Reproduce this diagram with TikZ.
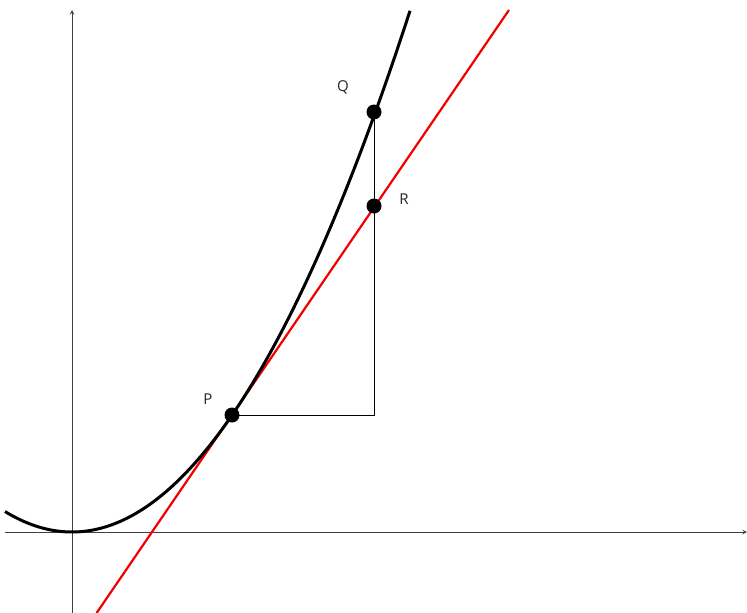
\documentclass[tikz,border=0pt]{standalone}
\usepackage{fontspec}
\setmainfont{Open Sans}
\begin{document}
\begin{tikzpicture}[x=1pt,y=-1pt,
  axis/.style={line width=1pt,->,>={stealth},black!75},
  curve/.style={line width=3pt,black},
  tangent/.style={line width=2.2pt,red!95!black},
  thin/.style={line width=1pt,black},
  dot/.style={circle,fill=black,inner sep=0pt,minimum size=15pt},
  lbl/.style={font=\fontsize{15}{17}\selectfont,text=black!85}]
\useasboundingbox (0,0) rectangle (747,613);
% axes
\coordinate (yb) at (72,613);
\coordinate (yt) at (72,10);
\coordinate (xl) at (5,532);
\coordinate (xr) at (747,532);
\draw[axis] (yb) -- (yt);
\draw[axis] (xl) -- (xr);
% points
\coordinate (Pc) at (232,415);
\coordinate (Qc) at (374,112);
\coordinate (Rc) at (374,206);
\coordinate (C) at (374,415);
% triangle
\draw[thin] (Pc) -- (C) -- (Qc);
% tangent
\coordinate (t1) at (96.6,613);
\coordinate (t2) at (509,10);
\draw[tangent] (t1) -- (t2);
% parabola
\draw[curve,domain=5:410,samples=120,smooth] plot (\x,{532-0.00457*(\x-72)*(\x-72)});
% dots
\node[dot] (P) at (Pc) {};
\node[dot] (Q) at (Qc) {};
\node[dot] (R) at (Rc) {};
\node[lbl] (lP) at (208,399) {P};
\node[lbl] (lQ) at (343,87) {Q};
\node[lbl] (lR) at (404,199) {R};
\end{tikzpicture}
\end{document}
